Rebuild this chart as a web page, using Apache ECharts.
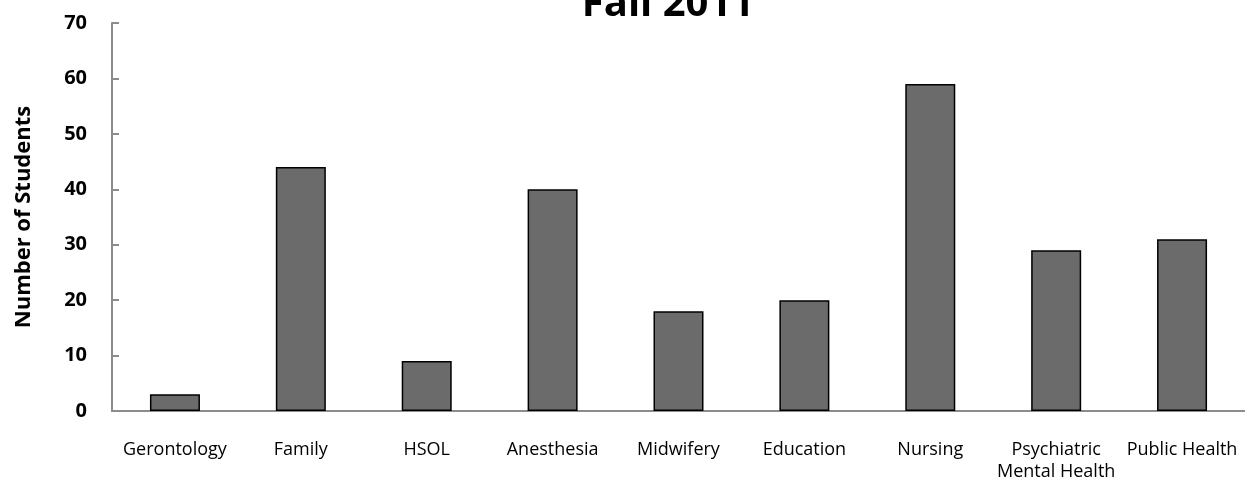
<!DOCTYPE html>
<html><head><meta charset="utf-8">
<script src="https://cdn.jsdelivr.net/npm/echarts@6/dist/echarts.min.js"></script>
<style>html,body{margin:0;padding:0;background:#fff}#c{width:1245px;height:481px}</style>
</head><body><div id="c"></div>
<script>
const categories = ["Gerontology","Family","HSOL","Anesthesia","Midwifery","Education","Nursing","Psychiatric\nMental Health","Public Health"];
const students = [3,44,9,40,18,20,59,29,31];
const yTicks = {min:0,max:70,interval:10};
const titleText = "Fall 2011";
const yName = "Number of Students";

const chart = echarts.init(document.getElementById('c'));
chart.setOption({
  animation:false,
  title:{text:titleText,left:663,textAlign:'center',top:-20,textStyle:{fontFamily:'Open Sans',fontWeight:'bold',fontSize:40,color:'#000'}},
  grid:{left:112,right:0,top:23,bottom:70,containLabel:false,outerBoundsMode:'none'},
  xAxis:{type:'category',data:categories,
    axisLine:{lineStyle:{color:'#8c8c8c',width:2}},
    axisTick:{show:false},
    axisLabel:{fontFamily:'Open Sans',fontSize:18,color:'#000',margin:28,lineHeight:22,interval:0}},
  yAxis:{type:'value',min:yTicks.min,max:yTicks.max,interval:yTicks.interval,
    name:yName,nameLocation:'middle',nameGap:77,nameRotate:90,
    nameTextStyle:{fontFamily:'Open Sans',fontWeight:'bold',fontSize:22,color:'#000'},
    axisLine:{show:true,lineStyle:{color:'#8c8c8c',width:2}},
    axisTick:{show:true,inside:true,length:7,lineStyle:{color:'#8c8c8c',width:2}},
    splitLine:{show:false},
    axisLabel:{fontFamily:'Open Sans',fontWeight:'bold',fontSize:20,color:'#000',margin:25}},
  series:[{type:'bar',data:students,barWidth:50,
    itemStyle:{color:'#6b6b6b',borderColor:'#000',borderWidth:1.5}}]
});
</script></body></html>
